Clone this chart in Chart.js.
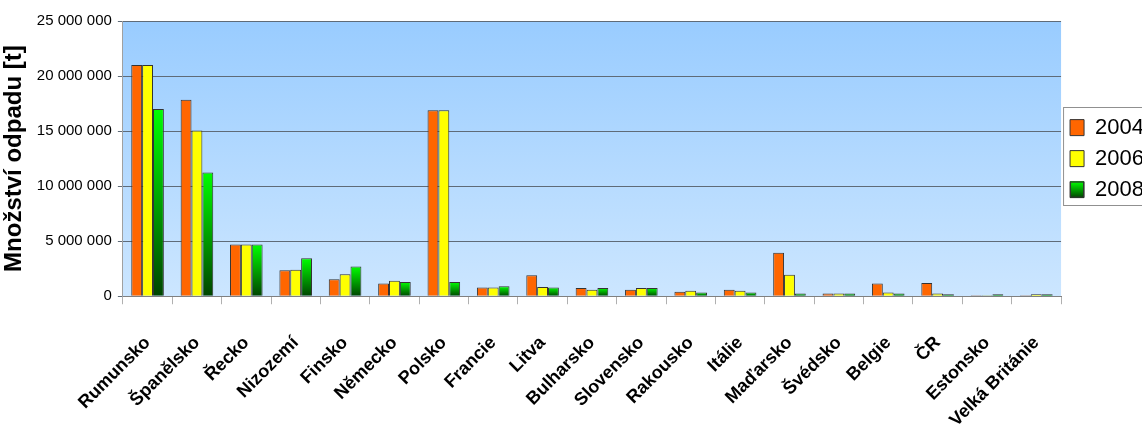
<!DOCTYPE html>
<html>
<head>
<meta charset="utf-8">
<script src="https://cdn.jsdelivr.net/npm/chart.js@4"></script>
<style>
  html, body { margin: 0; padding: 0; background: #fff; }
  #wrap { width: 1142px; height: 440px; }
</style>
</head>
<body>
<div id="wrap"><canvas id="wasteChart"></canvas></div>
<script>
const countries = ['Rumunsko', 'Španělsko', 'Řecko', 'Nizozemí', 'Finsko', 'Německo', 'Polsko', 'Francie', 'Litva',
    'Bulharsko', 'Slovensko', 'Rakousko', 'Itálie', 'Maďarsko', 'Švédsko', 'Belgie', 'ČR', 'Estonsko', 'Velká Británie'];
const years = ['2004', '2006', '2008'];
const waste2004 = [21000000, 17850000, 4700000, 2350000, 1550000, 1150000, 16900000, 800000, 1900000,
    750000, 600000, 400000, 600000, 3950000, 250000, 1150000, 1200000, 100000, 100000];
const waste2006 = [21000000, 15050000, 4700000, 2400000, 2000000, 1400000, 16900000, 800000, 850000,
    600000, 750000, 500000, 500000, 1950000, 250000, 350000, 250000, 100000, 180000];
const waste2008 = [17000000, 11250000, 4700000, 3450000, 2700000, 1300000, 1300000, 900000, 800000,
    750000, 750000, 350000, 350000, 250000, 250000, 250000, 180000, 180000, 180000];
const yMax = 25000000;
const yStep = 5000000;

function formatTons(v) {
    return String(v).replace(/\B(?=(\d{3})+(?!\d))/g, ' ');
}

// green bars fade from bright green at the top to dark green at the base
function greenFill(context) {
    const chart = context.chart;
    if (!chart.chartArea || context.type !== 'data') return '#00b000';
    const y = chart.scales.y;
    const top = y.getPixelForValue(context.raw);
    const base = y.getPixelForValue(0);
    if (!(base > top)) return '#00b000';
    const g = chart.ctx.createLinearGradient(0, top, 0, base);
    g.addColorStop(0, '#00ff00');
    g.addColorStop(1, '#004400');
    return g;
}

const plotBackground = {
    id: 'plotBackground',
    beforeDraw(chart) {
        const {ctx, chartArea} = chart;
        const g = ctx.createLinearGradient(0, chartArea.top, 0, chartArea.bottom);
        g.addColorStop(0, '#99ccff');
        g.addColorStop(1, '#cce6ff');
        ctx.save();
        ctx.fillStyle = g;
        ctx.fillRect(chartArea.left, chartArea.top, chartArea.right - chartArea.left, chartArea.bottom - chartArea.top);
        ctx.restore();
    }
};

const legendFrame = {
    id: 'legendFrame',
    afterDraw(chart) {
        const boxes = chart.legend.legendHitBoxes;
        if (!boxes || !boxes.length) return;
        const ctx = chart.ctx;
        const first = boxes[0];
        const last = boxes[boxes.length - 1];
        const top = first.top + first.height / 2 - 21;
        const bottom = last.top + last.height / 2 + 15;
        ctx.save();
        ctx.strokeStyle = '#909090';
        ctx.lineWidth = 1;
        ctx.strokeRect(first.left - 6.5, Math.round(top) + 0.5, 200, Math.round(bottom - top));
        // repaint the 2008 swatch with its gradient
        const gb = boxes[2];
        const cy = gb.top + gb.height / 2;
        const g = ctx.createLinearGradient(0, cy - 8, 0, cy + 8);
        g.addColorStop(0, '#00ff00');
        g.addColorStop(1, '#004400');
        ctx.fillStyle = g;
        ctx.strokeStyle = '#333333';
        ctx.fillRect(gb.left, cy - 8, 14, 16);
        ctx.strokeRect(gb.left + 0.5, cy - 7.5, 13, 15);
        ctx.restore();
    }
};

const ctx = document.getElementById('wasteChart').getContext('2d');
new Chart(ctx, {
    type: 'bar',
    data: {
        labels: countries,
        datasets: [{
            label: years[0],
            data: waste2004,
            backgroundColor: '#ff6600',
            borderColor: '#333333',
            borderWidth: 1
        }, {
            label: years[1],
            data: waste2006,
            backgroundColor: '#ffff00',
            borderColor: '#333333',
            borderWidth: 1
        }, {
            label: years[2],
            data: waste2008,
            backgroundColor: greenFill,
            borderColor: '#333333',
            borderWidth: 1
        }]
    },
    options: {
        responsive: true,
        maintainAspectRatio: false,
        animation: false,
        layout: {
            padding: {top: 21, right: -12, bottom: -19, left: 0}
        },
        datasets: {
            bar: {
                categoryPercentage: 0.66,
                barPercentage: 1.0
            }
        },
        plugins: {
            legend: {
                position: 'right',
                fullSize: false,
                labels: {
                    boxWidth: 14,
                    boxHeight: 16,
                    padding: 9,
                    color: '#000',
                    font: {family: 'Liberation Sans', size: 22}
                }
            },
            tooltip: {enabled: false}
        },
        scales: {
            x: {
                grid: {
                    drawOnChartArea: false,
                    drawTicks: true,
                    tickLength: 8,
                    color: '#b0b0b0'
                },
                border: {color: '#808080'},
                ticks: {
                    autoSkip: false,
                    minRotation: 45,
                    maxRotation: 45,
                    padding: 28,
                    color: '#000',
                    font: {family: 'Liberation Sans', size: 18, weight: 'bold'}
                }
            },
            y: {
                min: 0,
                max: yMax,
                grid: {
                    color: '#5f6b78',
                    tickLength: 5
                },
                border: {color: '#a0a0a0'},
                ticks: {
                    stepSize: yStep,
                    padding: 6,
                    color: '#000',
                    font: {family: 'Liberation Sans', size: 15},
                    callback: v => formatTons(v)
                },
                title: {
                    display: true,
                    text: 'Množství odpadu [t]',
                    color: '#000',
                    padding: {top: 0, bottom: 2},
                    font: {family: 'Liberation Sans', size: 24, weight: 'bold'}
                }
            }
        }
    },
    plugins: [plotBackground, legendFrame]
});
</script>
</body>
</html>
